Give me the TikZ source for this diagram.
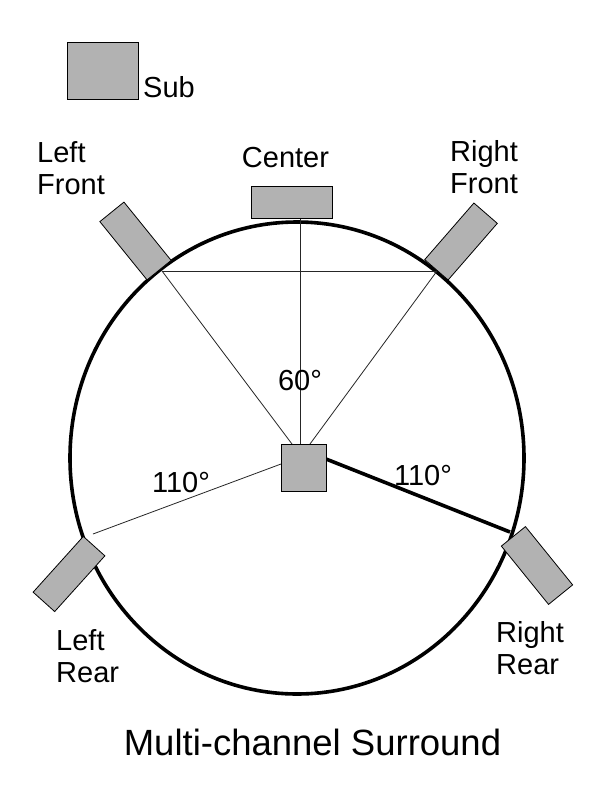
\documentclass[tikz,border=0pt]{standalone}
\usepackage{fontspec}
\setmainfont{Liberation Sans}
\begin{document}
\begin{tikzpicture}[x=1pt,y=-1pt,
  spk/.style={draw=black,line width=0.8pt,fill=black!30,inner sep=0,minimum width=75pt,minimum height=31pt},
  lbl/.style={font=\fontsize{29pt}{32.5pt}\selectfont,inner sep=0},
  mlbl/.style={lbl,align=left,anchor=north west},
  thin/.style={draw=black!85,line width=0.8pt},
  thick/.style={draw=black,line width=3.6pt}]
\useasboundingbox (0,0) rectangle (613,792);
\fill[white] (0,0) rectangle (613,792);
% circle
\draw[thick] (297,458) ellipse [x radius=227, y radius=236];
% named points
\coordinate (lfpt) at (162,271);
\coordinate (rfpt) at (437,271);
\coordinate (lrpt) at (93,534);
\coordinate (rrpt) at (510,532);
\coordinate (ctpt) at (300,218);
\coordinate (lstL) at (292,444);
\coordinate (lstR) at (310,444);
\coordinate (lstC) at (300,444);
\coordinate (lstW) at (281,464);
\coordinate (lstE) at (326,459);
% lines
\draw[thin] (lfpt) -- (rfpt);
\draw[thin] (lfpt) -- (lstL);
\draw[thin] (rfpt) -- (lstR);
\draw[thin] (ctpt) -- (lstC);
\draw[thin] (lrpt) -- (lstW);
\draw[thick] (lstE) -- (rrpt);
% speakers
\node[spk,rotate=-51] (lf) at (135.5,241) {};
\node[spk,rotate=49] (rf) at (461,241.5) {};
\node[spk,rotate=48,minimum height=29pt] (lr) at (69,574) {};
\node[spk,rotate=-51] (rr) at (537,565.5) {};
\node[spk,minimum width=81pt,minimum height=32pt] (center) at (291.5,202) {};
\node[spk,minimum width=71pt,minimum height=57pt] (sub) at (102.5,70.5) {};
\node[spk,minimum width=45pt,minimum height=47pt] (listener) at (303.5,467.5) {};
% labels
\node[lbl,anchor=base west] (tsub) at (143,97) {Sub};
\node[mlbl] (tlf) at (37,141) {Left\\Front};
\node[mlbl] (trf) at (450,140) {Right\\Front};
\node[lbl,anchor=base] (tct) at (285.5,167) {Center};
\node[mlbl] (tlr) at (56,629) {Left\\Rear};
\node[mlbl] (trr) at (496,621) {Right\\Rear};
\node[lbl,anchor=base] (t60) at (300,390) {60°};
\node[lbl,anchor=base] (t110l) at (181,492) {110°};
\node[lbl,anchor=base] (t110r) at (423,485) {110°};
\node[inner sep=0,anchor=base,font=\fontsize{36.5pt}{40pt}\selectfont] (title) at (312.5,755) {Multi-channel Surround};
\end{tikzpicture}
\end{document}
